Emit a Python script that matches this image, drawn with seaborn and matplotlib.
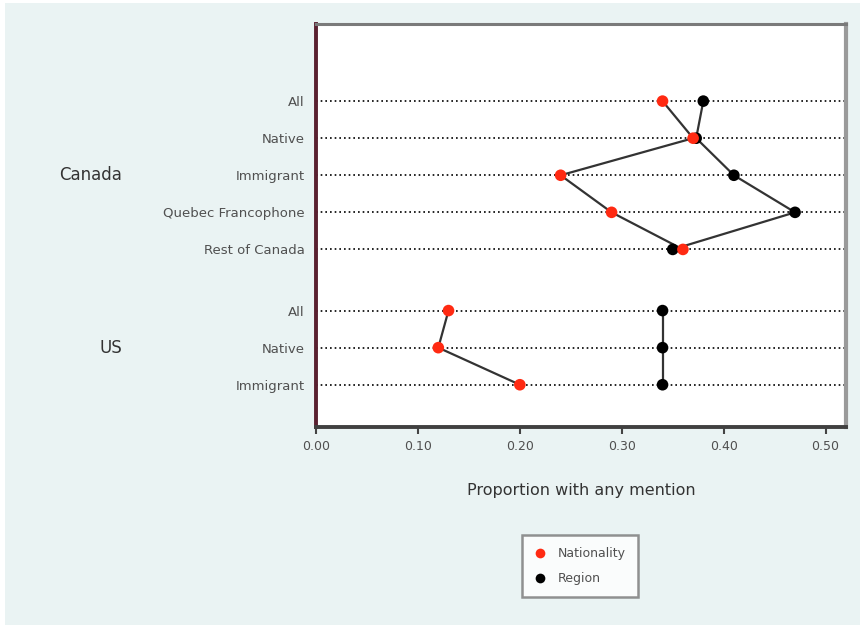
import matplotlib
matplotlib.use("Agg")
import matplotlib.pyplot as plt
import matplotlib.transforms as mtransforms
from matplotlib.patches import Rectangle
from matplotlib.lines import Line2D
import numpy as np
import pandas as pd
import seaborn as sns

# Survey results: proportion of respondents with any mention
groups = ["Canada"] * 5 + ["US"] * 3
subgroups = ["All", "Native", "Immigrant", "Quebec Francophone", "Rest of Canada",
             "All", "Native", "Immigrant"]
nationality = [0.34, 0.37, 0.24, 0.29, 0.36, 0.13, 0.12, 0.20]
region = [0.38, 0.373, 0.41, 0.47, 0.35, 0.34, 0.34, 0.34]
xticks = [0.0, 0.1, 0.2, 0.3, 0.4, 0.5]

# Row positions: one unit per row, with a wider gap between the two countries
row_pos = [0, 1, 2, 3, 4, 5.65, 6.65, 7.65]

# Region first so the Nationality dots sit on top where they overlap
df = pd.DataFrame({
    "group": groups * 2,
    "sub": subgroups * 2,
    "row": row_pos * 2,
    "value": region + nationality,
    "measure": ["Region"] * len(groups) + ["Nationality"] * len(groups),
})

sns.set_theme(style="white")
plt.rcParams["font.family"] = ["DejaVu Sans"]

BG = "#eaf3f3"
TXT = "#505050"
RED = "#ff2a12"

fig = plt.figure(figsize=(8.6, 6.25), dpi=100)
fig.patch.set_facecolor("white")
fig.patches.append(Rectangle((5 / 860, 0), 1 - 5 / 860, 1 - 3 / 625,
                             transform=fig.transFigure, facecolor=BG,
                             edgecolor="none", zorder=-10))

ax = fig.add_axes([316 / 860, 1 - 427 / 625, (846 - 316) / 860, (427 - 24) / 625])
ax.set_facecolor("white")

# Dotted guide line for every row
for r in row_pos:
    ax.axhline(r, color="black", ls=(0, (1, 1.8)), lw=1.2, zorder=1)

# Connecting lines within each country, per measure
for (g, m), sub in df.groupby(["group", "measure"], sort=False):
    ax.plot(sub["value"], sub["row"], color="#333333", lw=1.6, zorder=2)

sns.scatterplot(data=df, x="value", y="row", hue="measure",
                palette={"Nationality": RED, "Region": "black"},
                s=70, edgecolor="none", legend=False, zorder=3, ax=ax)

ax.set_xlim(0, 0.52)
ax.set_ylim(8.79, -2.08)
ax.set_xticks(xticks)
ax.set_xticklabels([f"{t:.2f}" for t in xticks])
ax.set_yticks(row_pos)
ax.set_yticklabels(subgroups)
ax.tick_params(axis="y", length=0, pad=8, labelsize=9.5, labelcolor=TXT)
ax.tick_params(axis="x", length=5, width=1.5, color="#444444", pad=4,
               labelsize=9, labelcolor=TXT, bottom=True, direction="out")
ax.set_xlabel("Proportion with any mention", fontsize=11.5, color="#333333",
              labelpad=22)
ax.set_ylabel("")

ax.spines["left"].set_color("#5a2030")
ax.spines["left"].set_linewidth(2.8)
ax.spines["bottom"].set_color("#404040")
ax.spines["bottom"].set_linewidth(2.8)
ax.spines["top"].set_color("#7a7a7a")
ax.spines["top"].set_linewidth(2.2)
ax.spines["right"].set_color("#9a9a9a")
ax.spines["right"].set_linewidth(3)
for s in ax.spines.values():
    s.set_visible(True)

# Country labels
trans = mtransforms.blended_transform_factory(fig.transFigure, ax.transData)
ax.text(122 / 860, 2, "Canada", transform=trans, ha="right", va="center",
        fontsize=12, color="#333333")
ax.text(122 / 860, 6.65, "US", transform=trans, ha="right", va="center",
        fontsize=12, color="#333333")

handles = [
    Line2D([], [], ls="none", marker="o", markersize=7, color=RED,
           markeredgecolor="none", label="Nationality"),
    Line2D([], [], ls="none", marker="o", markersize=7, color="black",
           markeredgecolor="none", label="Region"),
]
leg = fig.legend(handles=handles, loc="center", bbox_to_anchor=(580 / 860, 1 - 566 / 625),
                 frameon=True, fancybox=False, fontsize=9, handletextpad=0.9,
                 borderpad=1.0, labelspacing=0.95, handlelength=1.0,
                 borderaxespad=0)
leg.get_frame().set_edgecolor("#777777")
leg.get_frame().set_linewidth(1.8)
leg.get_frame().set_facecolor("white")
for t in leg.get_texts():
    t.set_color(TXT)

fig.savefig("out.png", dpi=100, facecolor=fig.get_facecolor())
